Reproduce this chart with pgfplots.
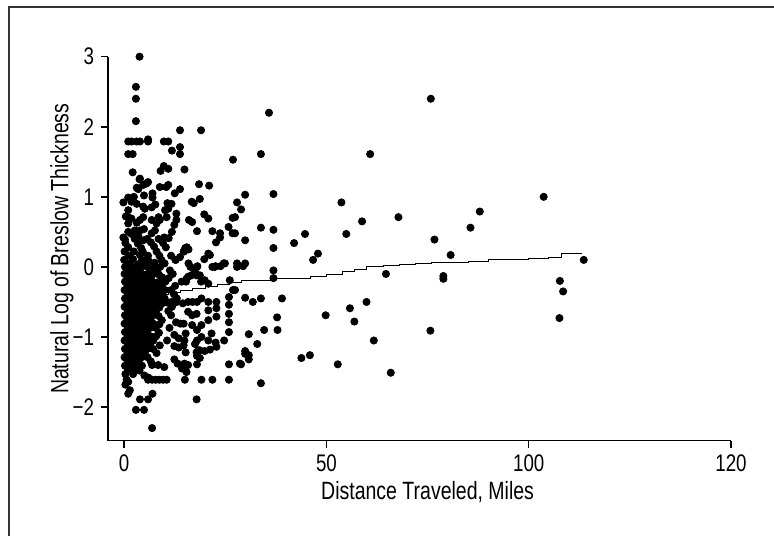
\documentclass[border=0pt]{standalone}
\usepackage{pgfplots}
\pgfplotsset{compat=1.18}
\usepackage{fontspec}
\setmainfont{Liberation Sans}[FakeStretch=0.78]

\begin{document}
\begin{tikzpicture}
% page frame: 1 px of the reference = 0.5bp, axis corner at (0,0)
\useasboundingbox (-54bp,-47.65bp) rectangle (333bp,220.35bp);
\draw[line width=1bp, black!80] (-49.5bp,-47.65bp) -- (-49.5bp,216.85bp) -- (333bp,216.85bp);
\begin{axis}[
    at={(0,0)}, anchor=south west,
    scale only axis,
    width=311.5bp, height=192bp,
    xmin=-4, xmax=150, ymin=-2.48, ymax=3,
    axis x line*=bottom, axis y line*=left,
    axis line style={-, line width=0.75bp},
    tick align=outside, major tick length=3.5bp,
    tick style={line width=0.75bp, black},
    xtick={0,50,100,150}, xticklabels={0,50,100,120},
    ytick={-2,-1,0,1,2,3}, yticklabels={−2,−1,0,1,2,3},
    tick label style={font=\fontsize{12bp}{13bp}\selectfont},
    label style={font=\fontsize{12.5bp}{14bp}\selectfont},
    xlabel={Distance Traveled, Miles},
    ylabel={Natural Log of Breslow Thickness},
    xlabel style={at={([yshift=-25.6bp]axis description cs:0.513,0)}, anchor=center},
    ylabel style={at={([xshift=-23bp]axis description cs:0,0.5)}, anchor=center},
    clip=false,
]
% step fit line
\addplot[const plot, black, line width=0.5bp] coordinates {
(0,-0.45) (4,-0.42) (8,-0.39) (11,-0.36) (14,-0.33) (17,-0.31) (20,-0.28)
(23,-0.25) (26,-0.22) (29,-0.20) (33,-0.19) (37,-0.17) (42,-0.16) (46,-0.14)
(50,-0.11) (54,-0.07) (57,-0.03) (60,0.00) (64,0.02) (68,0.04) (72,0.05)
(76,0.06) (80,0.07) (85,0.08) (90,0.10) (95,0.11) (100,0.12) (105,0.14)
(108,0.19) (113,0.20)};
% observations
\addplot[only marks, mark=*, mark size=1.8bp, black] coordinates {
(3.8,3.0) (2.9,2.57) (2.9,2.40) (2.9,2.08) (35.8,2.20) (75.8,2.40)
(1.0,1.79) (1.8,1.79) (3.1,1.79) (3.9,1.79) (5.9,1.82) (5.9,1.79) (9.8,1.79) (10.9,1.79)
(13.8,1.95) (19.0,1.95)
(1.0,1.61) (2.1,1.61) (11.8,1.66) (13.8,1.71) (13.8,1.61) (33.8,1.61) (60.8,1.61) (26.9,1.53)
(2.1,1.35) (9.0,1.37) (9.8,1.44) (10.9,1.40) (14.9,1.39) (3.9,1.26)
(3.1,1.13) (3.5,1.11) (4.7,1.17) (5.5,1.19) (5.9,1.21) (3.8,1.25)
(8.8,1.14) (10.4,1.14) (10.9,1.17) (13.8,1.11) (12.5,1.05) (18.5,1.18) (21.0,1.16)
(29.9,1.03) (36.9,1.04) (103.7,1.0)
(-0.2,0.92) (1.0,0.99) (1.8,0.93) (2.4,1.0) (3.1,0.90) (4.7,0.86) (5.1,0.83) (4.9,1.02)
(7.0,1.05) (7.0,0.99) (7.7,0.89) (6.8,0.85) (10.7,0.91) (11.7,0.90) (10.1,0.81) (10.9,0.83)
(16.7,0.93) (17.2,0.91) (18.7,0.97) (27.9,0.92) (28.9,0.82) (53.7,0.92)
(1.0,0.81) (1.0,0.71) (1.0,0.62) (1.0,0.50) (0.4,0.72)
(1.8,0.69) (3.1,0.63) (3.9,0.67) (4.7,0.71) (2.6,0.52) (3.9,0.52) (4.9,0.54)
(8.5,0.71) (8.0,0.62) (8.8,0.67) (6.8,0.67) (7.6,0.52) (6.8,0.48)
(12.9,0.76) (12.9,0.67) (11.8,0.50) (10.5,0.71) (12.4,0.60)
(16.0,0.67) (16.8,0.64) (19.8,0.75) (20.8,0.69) (18.0,0.51) (21.8,0.51)
(23.7,0.48) (23.7,0.42) (22.7,0.35) (26.8,0.70) (25.8,0.57) (26.8,0.48) (27.4,0.71)
(33.8,0.56) (36.9,0.53) (27.4,0.48) (29.9,0.38) (42.0,0.34) (36.9,0.27)
(58.8,0.65) (67.8,0.71) (44.7,0.47) (54.9,0.47) (85.6,0.56) (87.9,0.79) (76.7,0.39)
(-0.2,0.42) (0.2,0.39) (1.8,0.47) (2.6,0.40) (3.5,0.44) (4.7,0.38) (5.7,0.40)
(8.5,0.40) (9.3,0.38) (9.9,0.42) (11.0,0.41)
(47.9,0.19) (46.7,0.10) (80.7,0.17) (113.6,0.10)
(27.9,0.05) (27.9,0.0) (29.9,0.05) (36.9,-0.05) (24.9,0.05) (22.4,0.0) (21.8,0.0) (15.9,0.05) (18.0,0.0)
(21.2,0.17) (20.8,0.19) (19.8,0.11) (15.9,0.25) (13.8,0.14) (12.7,0.10) (14.7,0.22) (15.5,0.28)
(24.6,0.05) (22.6,0.01) (23.8,0.01) (29.4,0.01) (17.5,-0.07) (18.1,0.01)
(64.7,-0.10) (78.9,-0.13) (78.9,-0.17) (107.7,-0.20) (108.5,-0.35) (59.9,-0.50) (55.8,-0.59)
(49.8,-0.69) (56.9,-0.78) (107.6,-0.73) (75.7,-0.91) (61.7,-1.05) (43.8,-1.30) (45.9,-1.26)
(52.8,-1.39) (65.9,-1.51)
(36.9,-0.16) (27.4,-0.33) (29.9,-0.44) (31.8,-0.50) (33.8,-0.45) (39.0,-0.45) (37.8,-0.72)
(30.8,-0.96) (34.6,-0.90) (37.9,-0.90) (32.9,-1.10) (29.9,-1.20) (29.9,-1.24) (30.8,-1.26)
(30.8,-1.32) (28.9,-1.39) (33.8,-1.66)
(17.9,-1.89) (15.0,-1.61) (19.1,-1.61) (21.8,-1.61) (25.9,-1.61) (18.0,-1.39) (14.9,-1.38)
(25.9,-1.39) (28.6,-1.38) (22.8,-1.14) (18.0,-1.27) (18.7,-1.19) (20.8,-1.05) (18.0,-1.05)
(24.7,-1.05) (25.9,-0.93) (18.0,-0.90) (25.9,-0.79) (25.9,-0.67) (25.9,-0.54) (25.9,-0.43)
(22.8,-0.50) (22.8,-0.59) (22.8,-0.71) (20.8,-0.50) (20.8,-0.62) (20.8,-0.76) (18.0,-0.50)
(26.9,-0.33) (17.9,-0.12) (18.7,-0.12) (19.0,-0.21) (15.3,-0.21) (15.8,-0.14) (20.8,-0.24)
(15.4,-0.17) (16.6,-0.12) (19.9,-0.19) (26.1,-0.19)
(11.7,-0.50) (13.0,-0.50) (14.5,-0.52) (15.8,-0.50) (16.9,-0.50) (19.1,-0.45)
(15.8,-0.64) (16.8,-0.69) (17.9,-0.67) (12.8,-0.79) (13.9,-0.81) (14.7,-0.81) (16.8,-0.83) (19.1,-0.83)
(12.4,-0.97) (13.5,-1.02) (15.2,-0.95) (14.9,-1.05) (19.1,-1.0) (21.6,-0.95) (22.6,-1.08)
(17.5,-1.1) (18.3,-1.19)
(12.4,-1.13) (13.5,-1.15) (14.7,-1.12) (15.2,-1.22) (12.4,-1.32) (13.2,-1.38) (14.3,-1.45)
(15.4,-1.50) (15.8,-1.40) (17.9,-1.22) (18.7,-1.30) (19.9,-1.20) (21.2,-1.18)
(6.9,-1.40) (8.4,-1.40) (9.9,-1.43)
(0.6,-1.61) (1.0,-1.64) (5.9,-1.61) (6.9,-1.61) (7.8,-1.61) (8.7,-1.61) (9.6,-1.61) (10.5,-1.61)
(0.3,-1.68) (1.4,-1.76) (1.0,-1.81) (7.0,-1.81) (3.9,-1.89) (5.9,-1.89) (2.9,-2.04) (4.9,-2.04)
(6.9,-2.30) (5.0,-1.55) (6.0,-1.58)
(0.3,0.34) (3.4,0.33) (6.6,0.35) (9.6,0.34)
(1.0,0.28) (4.2,0.27) (7.4,0.29) (10.3,0.28) (15.1,0.27)
(0.1,0.22) (2.4,0.22) (4.6,0.22) (8.0,0.22) (14.8,0.22)
(1.2,0.16) (3.9,0.17) (5.9,0.16) (8.7,0.16) (11.6,0.16)
(0.0,0.10) (2.2,0.11) (4.4,0.10) (6.0,0.09) (9.2,0.10) (12.7,0.10)
(1.3,0.05) (3.6,0.04) (5.1,0.05) (7.5,0.06) (10.0,0.05)
(0.2,0.00) (1.6,0.00) (3.0,0.01) (4.3,0.00) (5.8,0.00) (7.3,-0.01) (8.9,0.00) (16.4,0.00)
(0.8,-0.05) (2.4,-0.05) (3.8,-0.05) (6.5,-0.05) (7.9,-0.05) (11.3,-0.05)
(0.1,-0.10) (1.5,-0.10) (2.9,-0.11) (4.4,-0.10) (5.9,-0.10) (7.2,-0.10) (8.6,-0.11) (12.0,-0.10)
(0.9,-0.15) (2.2,-0.15) (3.6,-0.16) (5.0,-0.15) (6.6,-0.15) (9.4,-0.15) (11.0,-0.16)
(0.2,-0.21) (1.6,-0.21) (3.0,-0.22) (4.4,-0.21) (5.7,-0.21) (7.3,-0.22) (8.7,-0.21) (10.2,-0.21) (14.2,-0.21)
(0.8,-0.27) (2.3,-0.27) (3.7,-0.28) (5.1,-0.27) (6.5,-0.27) (7.9,-0.27) (9.4,-0.28) (12.6,-0.27)
(0.1,-0.33) (1.5,-0.33) (2.9,-0.34) (4.3,-0.33) (5.8,-0.33) (7.2,-0.34) (8.6,-0.33) (10.1,-0.33) (11.6,-0.33)
(0.9,-0.39) (2.2,-0.39) (3.6,-0.40) (5.0,-0.39) (6.4,-0.39) (7.8,-0.39) (9.3,-0.40) (12.3,-0.39)
(0.2,-0.45) (1.6,-0.45) (3.0,-0.46) (4.4,-0.45) (5.7,-0.45) (7.1,-0.45) (8.6,-0.46) (10.0,-0.45) (13.0,-0.45)
(0.8,-0.51) (2.3,-0.51) (3.7,-0.52) (5.1,-0.51) (6.5,-0.51) (7.9,-0.51) (9.4,-0.52) (10.7,-0.51) (12.2,-0.51)
(0.1,-0.57) (1.5,-0.57) (2.9,-0.58) (4.3,-0.57) (5.8,-0.57) (7.2,-0.57) (8.7,-0.58) (11.8,-0.57)
(0.9,-0.63) (2.2,-0.63) (3.6,-0.64) (5.0,-0.63) (6.4,-0.63) (7.8,-0.63) (10.9,-0.63)
(0.2,-0.69) (1.6,-0.69) (3.0,-0.70) (4.4,-0.69) (5.7,-0.69) (7.1,-0.69) (8.5,-0.70) (11.6,-0.69)
(0.8,-0.75) (2.3,-0.75) (3.7,-0.76) (5.1,-0.75) (6.5,-0.75) (9.3,-0.76)
(0.1,-0.81) (1.5,-0.81) (2.9,-0.82) (4.3,-0.81) (5.8,-0.81) (7.2,-0.81) (8.7,-0.82)
(0.9,-0.87) (2.2,-0.87) (3.6,-0.88) (5.0,-0.87) (6.4,-0.87) (7.8,-0.87) (11.2,-0.87)
(0.2,-0.93) (1.6,-0.93) (3.0,-0.94) (4.4,-0.93) (5.7,-0.93) (8.6,-0.94)
(0.8,-0.99) (2.3,-0.99) (3.7,-1.00) (5.1,-0.99) (6.5,-0.99) (7.9,-0.99)
(0.1,-1.05) (1.5,-1.05) (2.9,-1.06) (4.3,-1.05) (5.8,-1.05) (7.2,-1.05) (10.6,-1.05)
(0.9,-1.11) (2.2,-1.11) (3.6,-1.12) (5.0,-1.11) (6.4,-1.11) (8.8,-1.12)
(0.2,-1.17) (1.6,-1.17) (3.0,-1.18) (4.4,-1.17) (5.7,-1.17) (7.1,-1.17)
(0.8,-1.23) (2.3,-1.23) (3.7,-1.24) (5.1,-1.23) (8.0,-1.23)
(0.1,-1.29) (1.5,-1.29) (2.9,-1.30) (4.3,-1.29) (5.8,-1.29)
(0.9,-1.35) (2.2,-1.35) (3.6,-1.36) (6.6,-1.35)
(0.2,-1.41) (1.6,-1.41) (3.0,-1.42) (4.4,-1.41)
(0.9,-1.47) (2.3,-1.47) (3.8,-1.48)
(0.3,-1.53) (2.2,-1.53)
};
\end{axis}
\end{tikzpicture}
\end{document}
